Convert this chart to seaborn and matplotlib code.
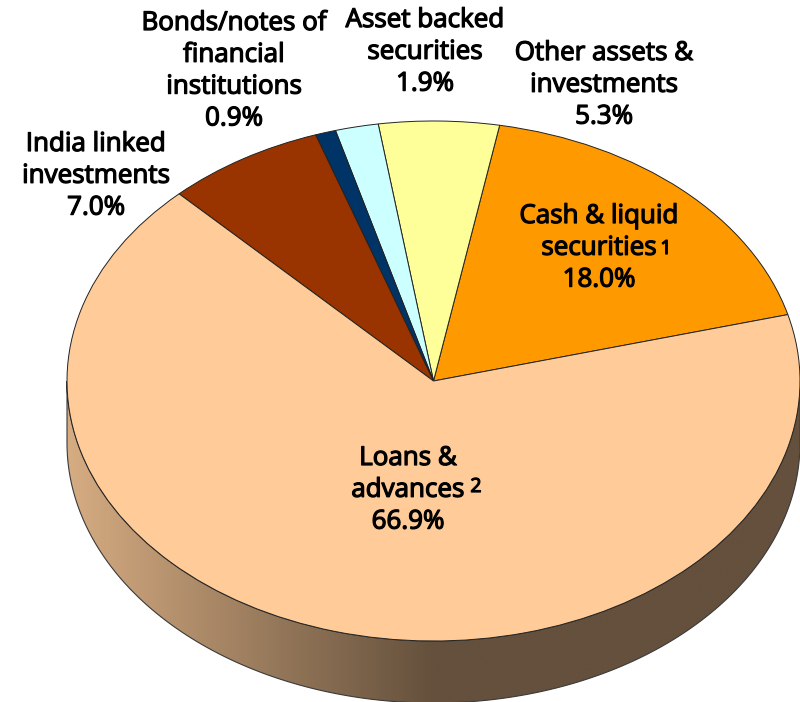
import numpy as np
import matplotlib
matplotlib.use("Agg")
import matplotlib.pyplot as plt
import matplotlib.patheffects as pe
from matplotlib.patches import Polygon
import seaborn as sns

# Portfolio shares, counter-clockwise from the right-hand side of the disc
categories = ["Cash & liquid\nsecurities", "Other assets &\ninvestments", "Asset backed\nsecurities",
              "Bonds/notes of\nfinancial\ninstitutions", "India linked\ninvestments", "Loans &\nadvances"]
shares = [18.0, 5.3, 1.9, 0.9, 7.0, 66.9]
slice_colors = ["#FF9900", "#FFFF99", "#CCFFFF", "#003366", "#993300", "#FFCC99"]
footnotes = ["1", "", "", "", "", "2"]

# Label placement in pixels: centre x, first baseline y
label_x = [599, 604, 425, 234, 96, 408]
label_y = [223, 60, 27, 30, 151, 465]
note_x = [666, 0, 0, 0, 0, 476]
note_y = [254, 0, 0, 0, 0, 492]

WIDTH, HEIGHT = 800, 702
CX, CY, RX, RY, DEPTH = 433.5, 381.0, 366.5, 260.0, 62.0
LINE_PITCH = 31.8

sns.set_theme(style="white")
plt.rcParams["font.family"] = ["Open Sans", "DejaVu Sans"]

fig = plt.figure(figsize=(WIDTH / 100, HEIGHT / 100), dpi=100, facecolor="white")
ax = fig.add_axes([0, 0, 1, 1])

wedges, _ = ax.pie(shares, colors=slice_colors, startangle=14.8, counterclock=True,
                   wedgeprops={"edgecolor": "#222222", "linewidth": 0.7, "zorder": 3})
ax.set_aspect("auto")


def to_data(px, py):
    return (px - CX) / RX, (CY - py) / RY


xlim = (to_data(0, 0)[0], to_data(WIDTH, 0)[0])
ylim = (to_data(0, HEIGHT)[1], to_data(0, 0)[1])

# Rim of the disc: lower half of the ellipse swept down by the depth
depth = DEPTH / RY
theta = np.linspace(np.pi, 2 * np.pi, 300)
rim_xy = np.r_[np.c_[np.cos(theta), np.sin(theta) - depth],
               np.c_[np.cos(theta[::-1]), np.sin(theta[::-1])]]
rim = Polygon(rim_xy, closed=True, facecolor="none", edgecolor="#3a3a3a", linewidth=0.8, zorder=2)
ax.add_patch(rim)

# Horizontal shading runs from light tan at the left to flat dark brown past the middle
rim_cmap = sns.blend_palette(["#D6AC82", "#64503C", "#64503C"], as_cmap=True)
shade = ax.imshow(np.linspace(0, 1, 512)[None, :], cmap=rim_cmap, aspect="auto",
                  extent=(-1, 1, -1 - depth, 0), zorder=1.5)
shade.set_clip_path(rim)

ax.set_xlim(*xlim)
ax.set_ylim(*ylim)
ax.axis("off")

stroke = [pe.withStroke(linewidth=0.9, foreground="black")]
for name, share, x, y, note, nx, ny in zip(categories, shares, label_x, label_y, footnotes, note_x, note_y):
    lines = name.split("\n") + [f"{share:.1f}%"]
    for i, line in enumerate(lines):
        tx, ty = to_data(x, y + i * LINE_PITCH)
        ax.text(tx, ty, line, ha="center", va="baseline", fontsize=18.7, color="black",
                path_effects=stroke, zorder=5)
    if note:
        tx, ty = to_data(nx, ny)
        ax.text(tx, ty, note, ha="center", va="baseline", fontsize=14, color="black",
                path_effects=stroke, zorder=5)

fig.savefig("out.png", dpi=100, facecolor="white")
